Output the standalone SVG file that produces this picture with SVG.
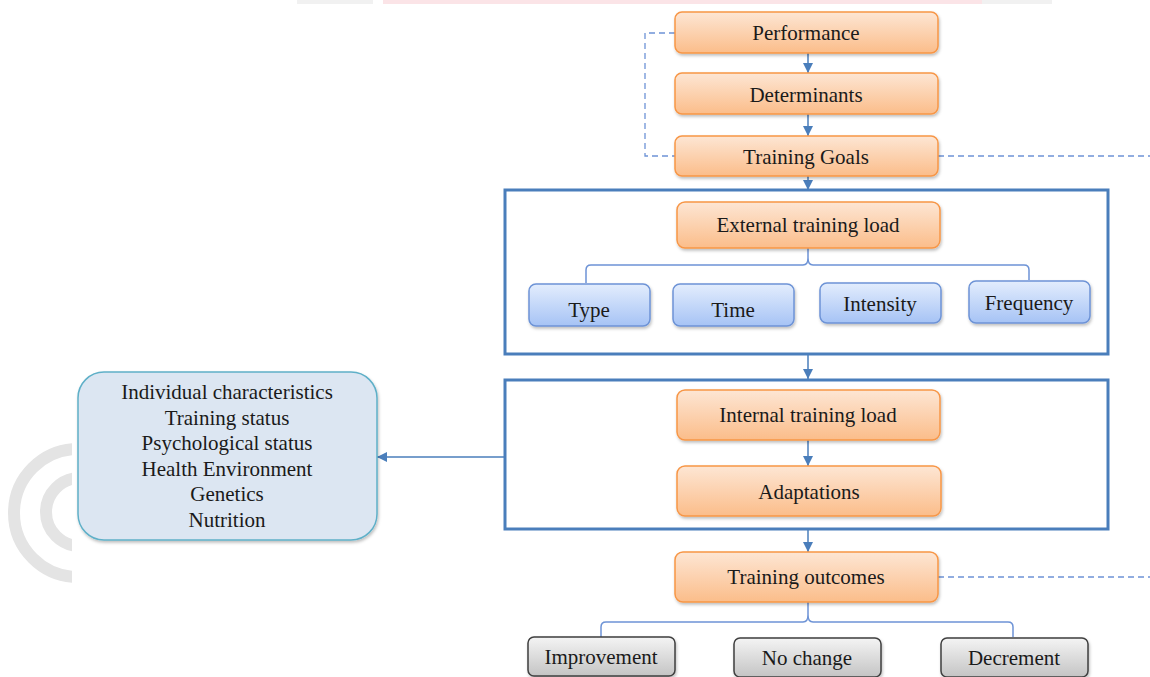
<svg xmlns="http://www.w3.org/2000/svg" width="1150" height="677" viewBox="0 0 1150 677">
<defs>
<linearGradient id="gOrange" x1="0" y1="0" x2="0" y2="1">
<stop offset="0" stop-color="#fde6d4"/>
<stop offset="1" stop-color="#fbbd8a"/>
</linearGradient>
<linearGradient id="gBlue" x1="0" y1="0" x2="0" y2="1">
<stop offset="0" stop-color="#e3edfd"/>
<stop offset="1" stop-color="#a6c3f5"/>
</linearGradient>
<linearGradient id="gGray" x1="0" y1="0" x2="0" y2="1">
<stop offset="0" stop-color="#f4f4f4"/>
<stop offset="1" stop-color="#c4c4c4"/>
</linearGradient>
<filter id="sh" x="-10%" y="-20%" width="120%" height="150%">
<feDropShadow dx="1" dy="2" stdDeviation="1.5" flood-color="#000" flood-opacity="0.25"/>
</filter>
<marker id="arr" markerUnits="userSpaceOnUse" markerWidth="10" markerHeight="10" viewBox="0 0 10 10" refX="10" refY="5" orient="auto">
<path d="M0,0 L10,5 L0,10 z" fill="#4a7ebb"/>
</marker>
<clipPath id="wmclip"><rect x="0" y="400" width="72" height="200"/></clipPath>
</defs>
<style>
text{font-family:"Liberation Serif","Times New Roman",serif;font-size:21px;fill:#1a1a1a;text-anchor:middle}
.or{fill:url(#gOrange);stroke:#f79646;stroke-width:1.5;filter:url(#sh)}
.bl{fill:url(#gBlue);stroke:#6d93d6;stroke-width:1.5;filter:url(#sh)}
.gr{fill:url(#gGray);stroke:#3f3f3f;stroke-width:1.5;filter:url(#sh)}
.frame{fill:none;stroke:#4a7ebb;stroke-width:3}
.ln{fill:none;stroke:#4a7ebb;stroke-width:1.5}
.br{fill:none;stroke:#6d93d6;stroke-width:1.5}
.dash{fill:none;stroke:#6d93d6;stroke-width:1.3;stroke-dasharray:6,4}
.wm{fill:none;stroke:#e4e4e4;stroke-width:12}
</style>
<rect width="1150" height="677" fill="#ffffff"/>
<g id="watermark">
<rect x="297" y="0" width="76" height="4" fill="#f1f1f1"/>
<rect x="383" y="0" width="600" height="4" fill="#fbe4e7"/>
<rect x="982" y="0" width="70" height="4" fill="#f1f1f1"/>
<g clip-path="url(#wmclip)">
<circle cx="78" cy="513" r="64" class="wm"/>
<circle cx="80" cy="512" r="34" class="wm"/>
</g>
</g>
<g id="frames">
<rect x="505" y="190" width="603" height="164" class="frame"/>
<rect x="505" y="380" width="603" height="149" class="frame"/>
</g>
<g id="connectors">
<line x1="808" y1="53" x2="808" y2="73" class="ln" marker-end="url(#arr)"/>
<line x1="808" y1="114" x2="808" y2="136" class="ln" marker-end="url(#arr)"/>
<line x1="808" y1="176" x2="808" y2="190" class="ln" marker-end="url(#arr)"/>
<line x1="808" y1="355" x2="808" y2="379" class="ln" marker-end="url(#arr)"/>
<line x1="808" y1="440" x2="808" y2="466" class="ln" marker-end="url(#arr)"/>
<line x1="808" y1="530" x2="808" y2="552" class="ln" marker-end="url(#arr)"/>
<line x1="504" y1="457" x2="377" y2="457" class="ln" marker-end="url(#arr)"/>
<path d="M586,283 L586,270 Q586,265 591,265 L803,265 Q808,265 808,258 L808,248 M808,258 Q808,265 813,265 L1024,265 Q1029,265 1029,270 L1029,280" class="br"/>
<path d="M601,637 L601,627 Q601,622 606,622 L803,622 Q808,622 808,615 L808,602 M808,615 Q808,622 813,622 L1008,622 Q1013,622 1013,627 L1013,637" class="br"/>
<path d="M675,33 L645,33 L645,156 L675,156" class="dash"/>
<path d="M938,156 L1150,156" class="dash"/>
<path d="M938,577 L1150,577" class="dash"/>
</g>
<g id="performance"><rect x="675" y="12" width="263" height="41" rx="7" class="or"/><text x="806" y="40">Performance</text></g>
<g id="determinants"><rect x="675" y="73" width="263" height="41" rx="7" class="or"/><text x="806" y="102">Determinants</text></g>
<g id="training-goals"><rect x="675" y="136" width="263" height="40" rx="7" class="or"/><text x="806" y="164">Training Goals</text></g>
<g id="external-load"><rect x="677" y="202" width="263" height="46" rx="8" class="or"/><text x="808" y="232">External training load</text></g>
<g id="type"><rect x="529" y="284" width="121" height="42" rx="7" class="bl"/><text x="589" y="317">Type</text></g>
<g id="time"><rect x="673" y="284" width="121" height="42" rx="7" class="bl"/><text x="733" y="317">Time</text></g>
<g id="intensity"><rect x="820" y="283" width="121" height="40" rx="7" class="bl"/><text x="880" y="311">Intensity</text></g>
<g id="frequency"><rect x="969" y="281" width="121" height="42" rx="7" class="bl"/><text x="1029" y="310">Frequency</text></g>
<g id="internal-load"><rect x="677" y="390" width="263" height="50" rx="8" class="or"/><text x="808" y="422">Internal training load</text></g>
<g id="adaptations"><rect x="677" y="466" width="264" height="50" rx="8" class="or"/><text x="809" y="499">Adaptations</text></g>
<g id="individual-factors">
<rect x="78" y="372" width="299" height="168" rx="26" fill="#dce6f2" stroke="#5fb0c8" stroke-width="1.5" filter="url(#sh)"/>
<text x="227" y="399">Individual characteristics</text>
<text x="227" y="425">Training status</text>
<text x="227" y="450">Psychological status</text>
<text x="227" y="476">Health Environment</text>
<text x="227" y="501">Genetics</text>
<text x="227" y="527">Nutrition</text>
</g>
<g id="training-outcomes"><rect x="675" y="552" width="263" height="50" rx="8" class="or"/><text x="806" y="584">Training outcomes</text></g>
<g id="improvement"><rect x="528" y="637" width="147" height="39" rx="6" class="gr"/><text x="601" y="664">Improvement</text></g>
<g id="no-change"><rect x="734" y="638" width="147" height="39" rx="6" class="gr"/><text x="807" y="665">No change</text></g>
<g id="decrement"><rect x="941" y="638" width="147" height="39" rx="6" class="gr"/><text x="1014" y="665">Decrement</text></g>
</svg>
